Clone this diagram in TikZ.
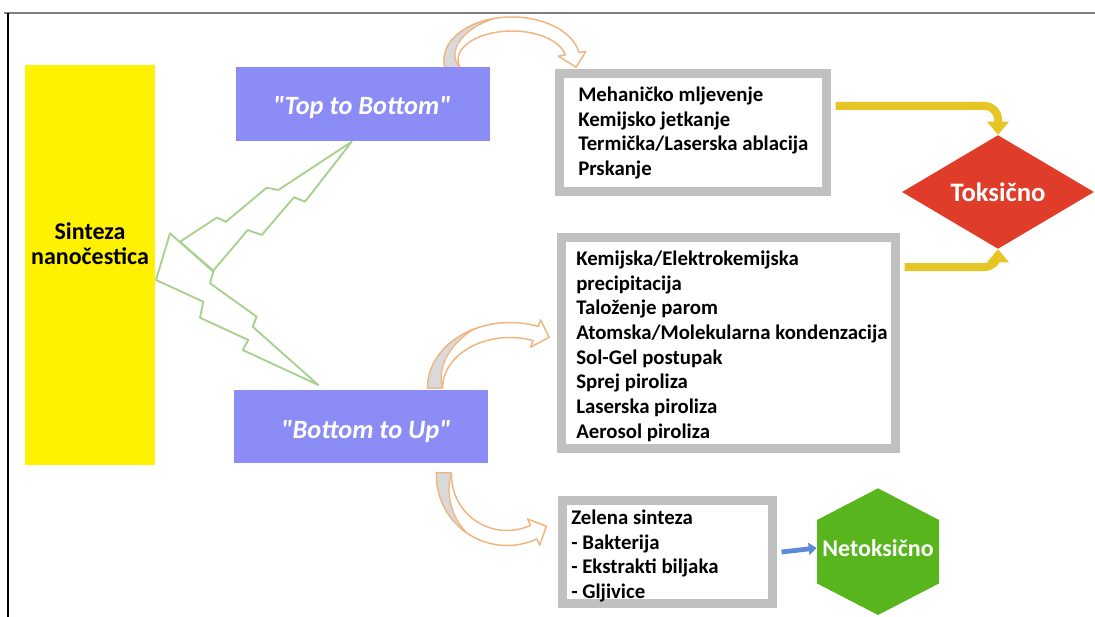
\documentclass[tikz,border=0pt]{standalone}
\usepackage{fontspec}
\setmainfont{Carlito}
\newfontfamily\qfont{Carlito}[Ligatures=TeXOff]
\usetikzlibrary{shapes.geometric,arrows.meta,calc}
\definecolor{synyellow}{RGB}{255,242,0}
\definecolor{purp}{RGB}{140,140,246}
\definecolor{boxgray}{RGB}{192,192,192}
\definecolor{arrowyel}{RGB}{230,198,36}
\definecolor{toxred}{RGB}{224,60,42}
\definecolor{netgreen}{RGB}{88,181,30}
\definecolor{blueline}{RGB}{91,139,214}
\definecolor{boltgreen}{RGB}{169,209,142}
\definecolor{curvor}{RGB}{240,180,125}
\definecolor{curvgray}{RGB}{217,217,217}
\definecolor{framegray}{RGB}{128,128,128}

\newcommand\curvedblock[8]{%
 \pgfmathsetmacro\cbhw{#5/2}%
 \pgfmathsetmacro\cbs{sign(#7-#6)}%
 \pgfmathsetmacro\cbmx{#1+#3*cos(#7)}%
 \pgfmathsetmacro\cbmy{#2-#4*sin(#7)}%
 \pgfmathsetmacro\cbdx{-(\cbs)*#3*sin(#7)}%
 \pgfmathsetmacro\cbdy{-(\cbs)*#4*cos(#7)}%
 \pgfmathsetmacro\cbn{veclen(\cbdx,\cbdy)}%
 \pgfmathsetmacro\cbtx{\cbmx+14*\cbdx/\cbn}%
 \pgfmathsetmacro\cbty{\cbmy+14*\cbdy/\cbn}%
 \pgfmathsetmacro\cbro{\cbhw+7}%
 \path[curvarrow] plot[domain=#6:#7,samples=40] ({#1+(#3+\cbhw)*cos(\x)},{#2-(#4+\cbhw)*sin(\x)})
   -- ({#1+(#3+\cbro)*cos(#7)},{#2-(#4+\cbro)*sin(#7)})
   -- (\cbtx,\cbty)
   -- ({#1+(#3-\cbro)*cos(#7)},{#2-(#4-\cbro)*sin(#7)})
   -- plot[domain=#7:#6,samples=40] ({#1+(#3-\cbhw)*cos(\x)},{#2-(#4-\cbhw)*sin(\x)}) -- cycle;
 \path[curvshade] plot[domain=#6:#8,samples=30] ({#1+(#3+\cbhw)*cos(\x)},{#2-(#4+\cbhw)*sin(\x)})
   -- plot[domain=#8:#6,samples=30] ({#1+(#3+\cbhw-#5*(\x-#8)/(#6-#8))*cos(\x)},{#2-(#4+\cbhw-#5*(\x-#8)/(#6-#8))*sin(\x)}) -- cycle;
}

\tikzset{
 curvarrow/.style={draw=curvor, line width=1.1pt, fill=white, line join=round},
 curvshade/.style={draw=curvor, line width=0.9pt, fill=curvgray, line join=round},
 bolt/.style={draw=boltgreen, line width=1.4pt, line join=round},
 synbox/.style={fill=synyellow, minimum width=97.5pt, minimum height=300pt, inner sep=0},
 bodytext/.style={font=\fontsize{15.6}{18.5}\selectfont\bfseries, align=left, inner sep=0},
 purpbox/.style={fill=purp, minimum width=190pt, minimum height=54.75pt, inner sep=0},
 purptext/.style={inner sep=0, text=white, font=\qfont\fontsize{19.8}{22}\selectfont\bfseries\itshape},
 grayframe/.style={draw=boxgray, line width=6.75pt, fill=white, inner sep=0},
 yelarrow/.style={draw=arrowyel, line width=6pt, rounded corners=10pt, -{Triangle[width=16pt,length=10pt]}},
 bluearrow/.style={draw=blueline, line width=3.6pt, -{Triangle[width=9pt,length=6pt]}},
 shapetext/.style={text=white, font=\bfseries, inner sep=0}
}

\begin{document}
\begin{tikzpicture}[x=0.75pt,y=-0.75pt]
\useasboundingbox (0,0) rectangle (1095,617);
\fill[white] (0,0) rectangle (1095,617);
\draw[framegray, line width=1.5pt] (4,13) -- (1095,13);
\draw[black, line width=1.1pt] (8,13) -- (8,617);

% curved block arrows (drawn first)
\curvedblock{512}{60}{61}{36}{14}{195}{10}{105}
\curvedblock{510}{388}{75}{58}{15}{180}{70}{115}
\curvedblock{507}{475}{63}{63}{15}{178}{295}{235}

% lightning bolts
\draw[bolt] (170,233.3) -- (156,280) -- (203.3,301.7) -- (200,317.7) -- (248.3,340) -- (242.7,350) -- (318.3,385) -- (252.7,326.7) -- (256.7,316.7) -- (210,283.3) -- (213.3,271.7) -- cycle;
\draw[bolt] (351.7,141.7) -- (278.3,190) -- (266.7,187.7) -- (226,221.7) -- (216.7,217.7) -- (180,241.7) -- (213.3,270.7) -- (247.7,230) -- (261.7,235) -- (294,197.3) -- (305,201.7) -- cycle;

% nodes
\node[synbox] (syn) at (90,265) {};
\node[bodytext, align=center, font=\fontsize{18}{18.75}\selectfont\bfseries] (synt) at (90,243.5) {Sinteza\\nanočestica};

\node[purpbox] (ttb) at (363,104) {};
\node[purptext] (ttbt) at (362,108) {"Top to Bottom"};
\node[purpbox] (btu) at (361,426.5) {};
\node[purptext] (btut) at (366,432) {"Bottom to Up"};

\node[grayframe, minimum width=200.25pt, minimum height=88.5pt] (b1) at (693,132.5) {};
\node[bodytext, anchor=west] (b1t) at (578,133) {Mehaničko mljevenje\\Kemijsko jetkanje\\Termička/Laserska ablacija\\Prskanje};

\node[grayframe, minimum width=250.5pt, minimum height=158.25pt] (b2) at (728.5,343) {};
\node[bodytext, anchor=west] (b2t) at (576,346) {Kemijska/Elektrokemijska\\precipitacija\\Taloženje parom\\Atomska/Molekularna kondenzacija\\Sol-Gel postupak\\Sprej piroliza\\Laserska piroliza\\Aerosol piroliza};

\node[grayframe, minimum width=157.5pt, minimum height=77.25pt] (b3) at (667.5,552) {};
\node[bodytext, anchor=west] (b3t) at (571,556) {Zelena sinteza\\- Bakterija\\- Ekstrakti biljaka\\- Gljivice};

\node[diamond, fill=toxred, minimum width=144pt, minimum height=77.25pt, inner sep=0, shapetext, font=\fontsize{20}{22}\selectfont\bfseries] (tox) at (998,192) {Toksično};

\fill[netgreen] (878,488.3) -- (939,520) -- (939,583.4) -- (878,615) -- (817,583.4) -- (817,520) -- cycle;
\node[shapetext, font=\fontsize{18}{20}\selectfont\bfseries, minimum width=91.5pt, minimum height=47pt] (hex) at (878,548) {Netoksično};

% connectors
\draw[yelarrow] ([xshift=3.4pt,yshift=19.9pt]b1.east) -| (tox.north);
\draw[yelarrow] ([xshift=3.4pt,yshift=57pt]b2.east) -| (tox.south);
\draw[bluearrow] ([xshift=3.4pt]b3.east) -- (hex.west);
\end{tikzpicture}
\end{document}
